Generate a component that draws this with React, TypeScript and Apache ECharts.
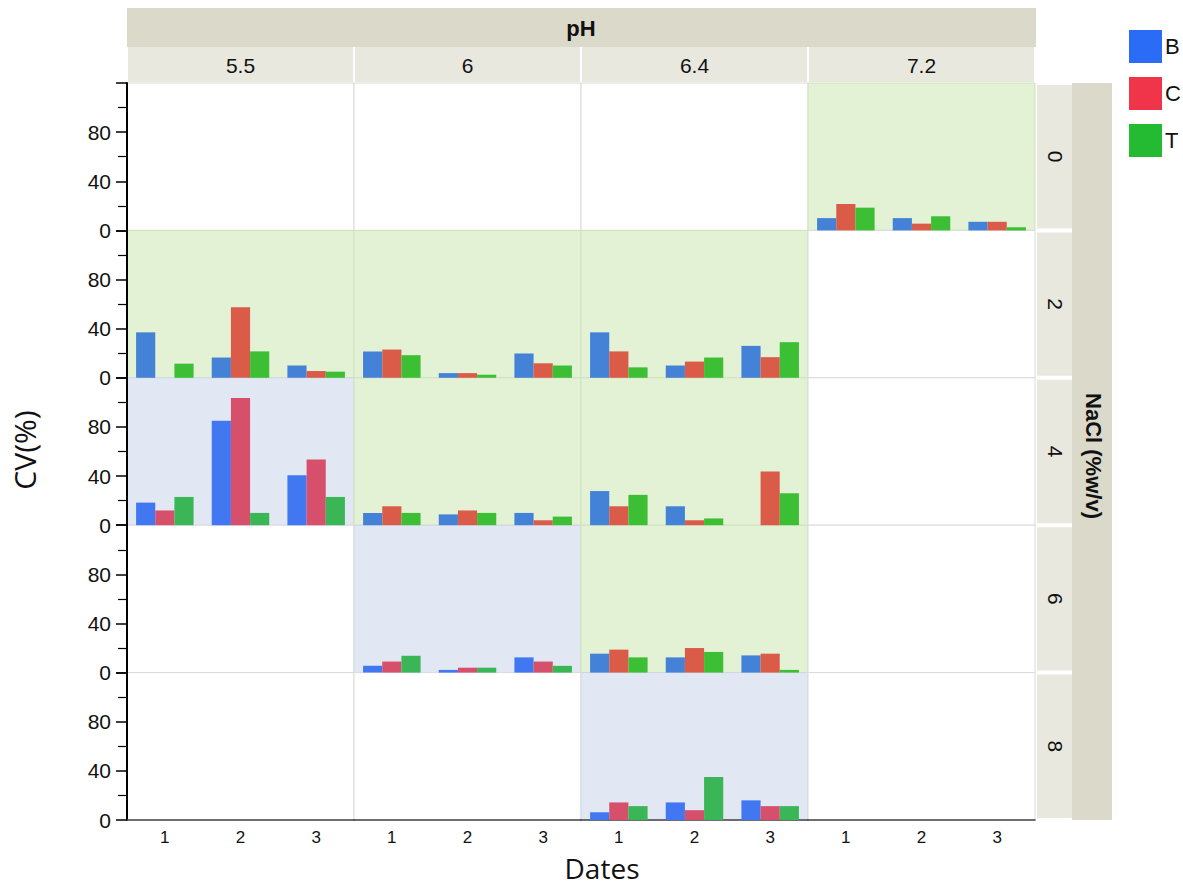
import React, { useEffect, useRef } from 'react';
import * as echarts from 'echarts';

const dates = ['1', '2', '3'];
const phLevels = ['5.5', '6', '6.4', '7.2'];
const naclLevels = ['0', '2', '4', '6', '8'];
const groups = ['B', 'C', 'T'];
const yTicks = [0, 40, 80];

type Panel = number[] | null;
// one entry per pH column (null = no data in that cell)
const nacl0_B: Panel[] = [null, null, null, [10, 10, 7]];
const nacl0_C: Panel[] = [null, null, null, [21.5, 5.5, 7]];
const nacl0_T: Panel[] = [null, null, null, [18.5, 11.5, 2.5]];
const nacl2_B: Panel[] = [[37, 16.5, 10], [21.5, 3.8, 19.8], [37, 10, 26], null];
const nacl2_C: Panel[] = [[0, 57.5, 5.5], [23, 3.8, 11.8], [21.5, 13.2, 16.8], null];
const nacl2_T: Panel[] = [[11.5, 21.5, 5], [18.4, 2.5, 10], [8.5, 16.5, 29], null];
const nacl4_B: Panel[] = [[18.4, 85, 40.7], [10, 8.8, 10], [27.8, 15.4, 0], null];
const nacl4_C: Panel[] = [[12, 103.5, 53.4], [15.4, 12, 4], [15.4, 4, 43.7], null];
const nacl4_T: Panel[] = [[23, 10, 23], [10, 10, 7], [24.7, 5.5, 26], null];
const nacl6_B: Panel[] = [null, [5.5, 2.2, 12.4], [15.4, 12.4, 14], null];
const nacl6_C: Panel[] = [null, [9, 4, 9], [18.7, 20, 15.4], null];
const nacl6_T: Panel[] = [null, [13.7, 4, 5.5], [12.4, 16.8, 2.2], null];
const nacl8_B: Panel[] = [null, null, [6.3, 14.3, 16], null];
const nacl8_C: Panel[] = [null, null, [14.3, 8, 11.3], null];
const nacl8_T: Panel[] = [null, null, [11.3, 35, 11.3], null];

const rowsB = [nacl0_B, nacl2_B, nacl4_B, nacl6_B, nacl8_B];
const rowsC = [nacl0_C, nacl2_C, nacl4_C, nacl6_C, nacl8_C];
const rowsT = [nacl0_T, nacl2_T, nacl4_T, nacl6_T, nacl8_T];

// panel shading: g = green, b = blue, w = white
const shade = [
  ['w', 'w', 'w', 'g'],
  ['g', 'g', 'g', 'w'],
  ['b', 'g', 'g', 'w'],
  ['w', 'b', 'g', 'w'],
  ['w', 'w', 'b', 'w'],
];

const X0 = 127;
const CW = 227;
const Y0 = 83;
const RH = 147.4;
const FONT = '"Liberation Sans", Arial, sans-serif';
const TFONT = '"Open Sans", sans-serif';

const bg: Record<string, string> = { w: '#ffffff', g: '#e3f1d5', b: '#e2e8f3' };
const border: Record<string, string> = { w: '#dadada', g: '#cfe2bd', b: '#cfd6e4' };
const barColors: Record<string, string[]> = {
  g: ['#4382d6', '#d95b48', '#3cbf34'],
  b: ['#4178f2', '#d6506b', '#3bb657'],
  w: ['#4382d6', '#d95b48', '#3cbf34'],
};
const legendColors = ['#2a6cf5', '#f0344a', '#24bb33'];

export default function App() {
  const ref = useRef<HTMLDivElement>(null);
  useEffect(() => {
    document.body.style.margin = '0';
    const chart = echarts.init(ref.current!, null, { renderer: 'svg' });
    const grid: any[] = [];
    const xAxis: any[] = [];
    const yAxis: any[] = [];
    const series: any[] = [];
    naclLevels.forEach((_, r) => {
      phLevels.forEach((__, c) => {
        const idx = grid.length;
        const s = shade[r][c];
        grid.push({
          left: X0 + c * CW,
          top: Y0 + r * RH,
          width: CW,
          height: RH,
          show: true,
          backgroundColor: bg[s],
          borderColor: border[s],
          borderWidth: 1,
        });
        xAxis.push({
          type: 'category',
          gridIndex: idx,
          data: dates,
          axisTick: { show: false },
          axisLine: { show: r === 4, lineStyle: { color: '#444', width: 1.5 } },
          axisLabel: { show: r === 4, fontSize: 17, color: '#111', fontFamily: FONT, margin: 9 },
          splitLine: { show: false },
        });
        yAxis.push({
          type: 'value',
          gridIndex: idx,
          min: 0,
          max: 120,
          interval: 40,
          axisLine: { show: c === 0, lineStyle: { color: '#000', width: 2 } },
          axisTick: { show: c === 0, length: 11, lineStyle: { color: '#000', width: 1.5 } },
          minorTick: { show: c === 0, splitNumber: 2, length: 9, lineStyle: { color: '#000', width: 1.2 } },
          axisLabel: {
            show: c === 0,
            fontSize: 21,
            color: '#111',
            fontFamily: FONT,
            margin: 16,
            formatter: (v: number) => (yTicks.includes(v) ? String(v) : ''),
          },
          splitLine: { show: false },
          minorSplitLine: { show: false },
        });
        const vals = [rowsB[r][c], rowsC[r][c], rowsT[r][c]];
        if (vals[0]) {
          groups.forEach((g, k) => {
            series.push({
              type: 'bar',
              name: g,
              xAxisIndex: idx,
              yAxisIndex: idx,
              data: vals[k],
              barGap: '0%',
              barCategoryGap: '24%',
              itemStyle: { color: barColors[s][k] },
            });
          });
        }
      });
    });

    const graphic: any[] = [];
    graphic.push({ type: 'rect', shape: { x: 127, y: 8, width: 909, height: 39 }, style: { fill: '#dbd9c9' } });
    graphic.push({
      type: 'text', x: 581, y: 28,
      style: { text: 'pH', fontSize: 22, fontWeight: 'bold', fontFamily: FONT, fill: '#111', align: 'center', verticalAlign: 'middle' },
    });
    phLevels.forEach((p, c) => {
      graphic.push({ type: 'rect', shape: { x: X0 + c * CW + 1, y: 47, width: CW - 2, height: 35 }, style: { fill: '#e8e8df' } });
      graphic.push({
        type: 'text', x: X0 + c * CW + CW / 2, y: 65,
        style: { text: p, fontSize: 21, fontFamily: FONT, fill: '#111', align: 'center', verticalAlign: 'middle' },
      });
    });
    graphic.push({ type: 'rect', shape: { x: 1072, y: 83, width: 40, height: 737 }, style: { fill: '#dbd9c9' } });
    naclLevels.forEach((n, r) => {
      graphic.push({ type: 'rect', shape: { x: 1037, y: Y0 + r * RH + 2, width: 35, height: RH - 4 }, style: { fill: '#e8e8df' } });
      graphic.push({
        type: 'text', x: 1055, y: Y0 + r * RH + RH / 2, rotation: -Math.PI / 2,
        style: { text: n, fontSize: 21, fontFamily: FONT, fill: '#111', align: 'center', verticalAlign: 'middle' },
      });
    });
    graphic.push({
      type: 'text', x: 1093, y: 456, rotation: -Math.PI / 2,
      style: { text: 'NaCl (%w/v)', fontSize: 22, fontWeight: 'bold', fontFamily: FONT, fill: '#111', align: 'center', verticalAlign: 'middle' },
    });
    graphic.push({
      type: 'text', x: 24, y: 450, rotation: Math.PI / 2,
      style: { text: 'CV(%)', fontSize: 30, fontFamily: TFONT, fill: '#111', align: 'center', verticalAlign: 'middle' },
    });
    graphic.push({
      type: 'text', x: 602, y: 868,
      style: { text: 'Dates', fontSize: 28, fontFamily: TFONT, fill: '#111', align: 'center', verticalAlign: 'middle' },
    });

    chart.setOption({
      animation: false,
      backgroundColor: '#ffffff',
      grid,
      xAxis,
      yAxis,
      series,
      legend: {
        orient: 'vertical',
        left: 1124,
        top: 25,
        itemWidth: 33,
        itemHeight: 33,
        itemGap: 14,
        itemStyle: { borderWidth: 0 },
        icon: 'rect',
        textStyle: { fontSize: 22, fontFamily: FONT, color: '#111', padding: [0, 0, 0, -2] },
        data: groups.map((g, k) => ({ name: g, itemStyle: { color: legendColors[k] } })),
      },
      graphic,
    });
    return () => chart.dispose();
  }, []);
  return <div ref={ref} style={{ width: 1183, height: 888 }} />;
}
